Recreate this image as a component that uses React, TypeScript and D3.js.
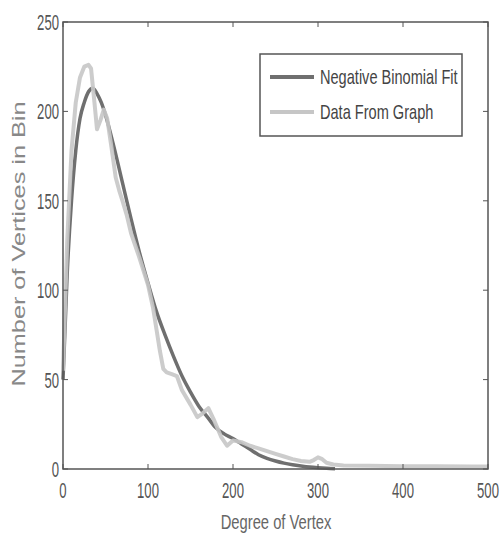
import React from 'react'
import * as d3 from 'd3'

// degree of vertex (x) and vertex count in bin (y)
const fitDegree = [0, 5, 10, 15, 20, 25, 30, 35, 40, 45, 50, 60, 70, 80, 90, 100, 110, 120, 130, 140, 150, 160, 170, 180, 190, 200, 210, 220, 230, 240, 250, 260, 270, 280, 290, 300, 310, 320]
const fitCount = [50, 110, 150, 178, 196, 205, 211, 213, 210, 205, 198, 180, 160, 140, 121, 104, 88, 75, 63, 52, 43, 35, 29, 23, 19.5, 17, 14, 11, 8, 6, 4.5, 3.3, 2.4, 1.7, 1.1, 0.7, 0.4, 0.2]

const dataDegree = [0, 5, 10, 15, 20, 25, 30, 33, 37, 40, 44, 48, 52, 57, 62, 66, 70, 75, 80, 90, 100, 106, 110, 114, 118, 122, 128, 134, 140, 150, 158, 164, 171, 178, 186, 193, 200, 210, 220, 230, 240, 250, 260, 270, 280, 290, 295, 300, 305, 310, 318, 330, 360, 400, 440, 480, 500]
const dataCount = [55, 128, 178, 205, 219, 225, 226, 224, 205, 190, 195, 201, 196, 180, 163, 156, 150, 142, 132, 118, 103, 90, 78, 66, 56, 54, 53, 52, 44, 36, 29, 31, 34, 27, 18, 13, 16, 15, 13, 11.5, 10, 8.5, 7, 5.5, 4.5, 4, 5, 6.5, 5.5, 3.5, 2.5, 2, 1.8, 1.6, 1.5, 1.4, 1.4]

const xTicks = [0, 100, 200, 300, 400, 500]
const yTicks = [0, 50, 100, 150, 200, 250]

const legendLabels = ['Negative Binomial Fit', 'Data From Graph']

const margin = { left: 63, right: 12, top: 22, bottom: 65 }
const W = 500
const H = 534
const sans = '"Liberation Sans", Arial, sans-serif'

export default function App() {
  const x = d3.scaleLinear().domain([0, 500]).range([margin.left, W - margin.right])
  const y = d3.scaleLinear().domain([0, 250]).range([H - margin.bottom, margin.top])

  const fitLine = d3.line<number>()
    .x((d, i) => x(fitDegree[i]))
    .y(d => y(d))
    .curve(d3.curveMonotoneX)

  const dataLine = d3.line<number>()
    .x((d, i) => x(dataDegree[i]))
    .y(d => y(d))

  const x0 = x(0), x1 = x(500), y0 = y(0), y1 = y(250)
  const axisColor = '#555'

  return (
    <svg width={W} height={H} style={{ position: 'absolute', left: 0, top: 0, background: '#fff' }}>
      {/* curves */}
      <path d={fitLine(fitCount) || ''} fill="none" stroke="#6f6f6f" strokeWidth={3.5} strokeLinejoin="round" />
      <path d={dataLine(dataCount) || ''} fill="none" stroke="#c6c6c6" strokeWidth={4} strokeLinejoin="round" opacity={0.9} />

      {/* box */}
      <rect x={x0} y={y1} width={x1 - x0} height={y0 - y1} fill="none" stroke={axisColor} strokeWidth={1.5} />

      {xTicks.map(t => (
        <g key={'x' + t}>
          <line x1={x(t)} x2={x(t)} y1={y0} y2={y0 - 5} stroke={axisColor} strokeWidth={1} />
          <line x1={x(t)} x2={x(t)} y1={y1} y2={y1 + 5} stroke={axisColor} strokeWidth={1} />
          <text transform={`translate(${x(t)},${498}) scale(0.82,1.4)`} textAnchor="middle"
            fontFamily={sans} fontSize={16} fill="#555">{t}</text>
        </g>
      ))}
      {yTicks.map(t => (
        <g key={'y' + t}>
          <line x1={x0} x2={x0 + 5} y1={y(t)} y2={y(t)} stroke={axisColor} strokeWidth={1} />
          <line x1={x1} x2={x1 - 5} y1={y(t)} y2={y(t)} stroke={axisColor} strokeWidth={1} />
          <text transform={`translate(${59},${y(t) + 8}) scale(0.82,1.4)`} textAnchor="end"
            fontFamily={sans} fontSize={16} fill="#555">{t}</text>
        </g>
      ))}

      {/* axis titles */}
      <text transform={`translate(276,529) scale(0.82,1.1)`} textAnchor="middle"
        fontFamily={sans} fontSize={18} fill="#666">Degree of Vertex</text>
      <text transform={`translate(25,244) scale(1,1.33) rotate(-90)`} textAnchor="middle"
        fontFamily={sans} fontSize={19} fill="#888">Number of Vertices in Bin</text>

      {/* legend */}
      <rect x={260} y={54} width={202} height={82} fill="#fff" stroke={axisColor} strokeWidth={1.5} />
      {legendLabels.map((l, i) => (
        <g key={l}>
          <line x1={270} x2={314} y1={77 + i * 35} y2={77 + i * 35}
            stroke={i === 0 ? '#6f6f6f' : '#c6c6c6'} strokeWidth={4} />
          <text transform={`translate(320,${84 + i * 35}) scale(0.81,1.15)`}
            fontFamily={sans} fontSize={18} fill="#444">{l}</text>
        </g>
      ))}
    </svg>
  )
}
